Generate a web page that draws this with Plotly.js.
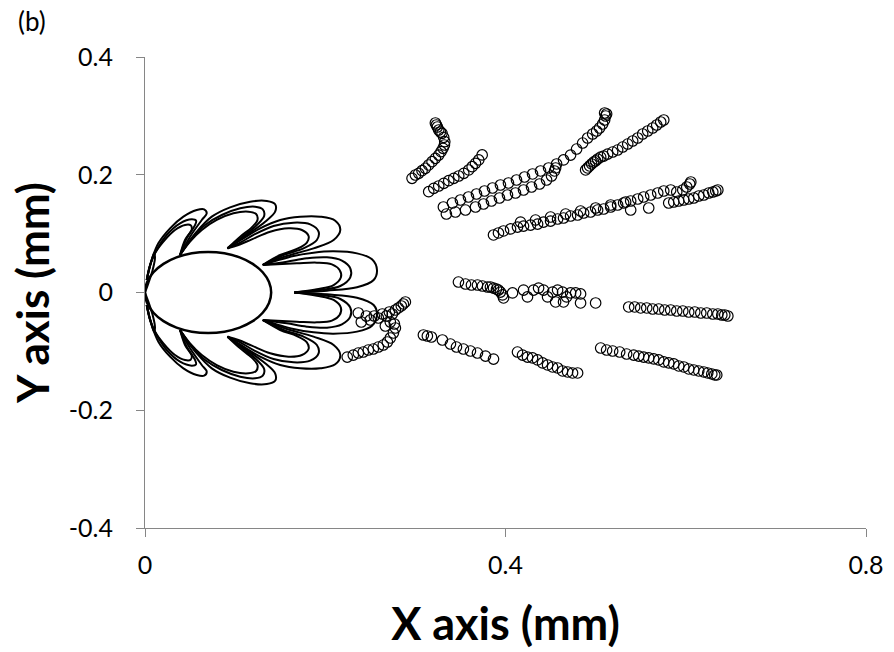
<!DOCTYPE html>
<html>
<head>
<meta charset="utf-8">
<script src="https://cdn.plot.ly/plotly-3.0.1.min.js"></script>
<style>html,body{margin:0;padding:0;background:#fff;}#chart{width:894px;height:652px;}</style>
</head>
<body>
<div id="chart"></div>
<script>
// ---------- central ellipse ----------
const ellX = [0.140,0.1376,0.1306,0.1195,0.105,0.0881,0.070,0.0519,0.035,0.0205,0.0094,0.0024,0.000,0.0024,0.0094,0.0205,0.035,0.0519,0.070,0.0881,0.105,0.1195,0.1306,0.1376,0.140];
const ellY = [0.000,0.0178,0.0344,0.0487,0.0596,0.0665,0.0688,0.0665,0.0596,0.0487,0.0344,0.0178,0.000,-0.0178,-0.0344,-0.0487,-0.0596,-0.0665,-0.0688,-0.0665,-0.0596,-0.0487,-0.0344,-0.0178,0.000];

// ---------- petal loops (upper half, lower half) ----------
const lobeA_out_x = [0.1656,0.2019,0.2352,0.2537,0.2574,0.2519,0.2352,0.2093,0.1870,0.1648,0.1463,0.1307];
const lobeA_out_y = [0.0,0.0031,0.0088,0.0212,0.0382,0.0563,0.0665,0.0699,0.0677,0.0620,0.0541,0.0467];
const lobeA_out_yl = [0.0,-0.0031,-0.0088,-0.0212,-0.0382,-0.0563,-0.0665,-0.0699,-0.0677,-0.0620,-0.0541,-0.0467];
const lobeA_mid_x = [0.1656,0.1944,0.2167,0.2278,0.2278,0.2185,0.2019,0.1796,0.1574,0.1307];
const lobeA_mid_y = [0.0,0.0042,0.0110,0.0258,0.0411,0.0541,0.0597,0.0580,0.0524,0.0467];
const lobeA_mid_yl = [0.0,-0.0042,-0.0110,-0.0258,-0.0411,-0.0541,-0.0597,-0.0580,-0.0524,-0.0467];
const lobeA_in_x = [0.1656,0.1907,0.2093,0.2174,0.2159,0.2074,0.1907,0.1685,0.1307];
const lobeA_in_y = [0.0,0.0054,0.0127,0.0258,0.0382,0.0478,0.0507,0.0495,0.0467];
const lobeA_in_yl = [0.0,-0.0054,-0.0127,-0.0258,-0.0382,-0.0478,-0.0507,-0.0495,-0.0467];

const lobeB_out_x = [0.1307,0.1574,0.1870,0.2093,0.2167,0.2111,0.1944,0.1722,0.1500,0.1278,0.1093,0.0915];
const lobeB_out_y = [0.0467,0.0620,0.0750,0.0892,0.1062,0.1220,0.1288,0.1288,0.1232,0.1090,0.0920,0.0750];
const lobeB_out_yl = [-0.0467,-0.0620,-0.0750,-0.0892,-0.1062,-0.1220,-0.1288,-0.1288,-0.1232,-0.1090,-0.0920,-0.0750];
const lobeB_mid_x = [0.1307,0.1537,0.1759,0.1907,0.1926,0.1833,0.1648,0.1426,0.1204,0.1056,0.0915];
const lobeB_mid_y = [0.0467,0.0637,0.0750,0.0892,0.1033,0.1158,0.1186,0.1130,0.0977,0.0847,0.0750];
const lobeB_mid_yl = [-0.0467,-0.0637,-0.0750,-0.0892,-0.1033,-0.1158,-0.1186,-0.1130,-0.0977,-0.0847,-0.0750];
const lobeB_in_x = [0.1307,0.1500,0.1685,0.1796,0.1815,0.1741,0.1593,0.1389,0.1185,0.1037,0.0915];
const lobeB_in_y = [0.0467,0.0637,0.0739,0.0847,0.0960,0.1062,0.1090,0.1033,0.0903,0.0807,0.0750];
const lobeB_in_yl = [-0.0467,-0.0637,-0.0739,-0.0847,-0.0960,-0.1062,-0.1090,-0.1033,-0.0903,-0.0807,-0.0750];

const lobeC_out_x = [0.0915,0.1130,0.1333,0.1444,0.1444,0.1352,0.1167,0.0944,0.0741,0.0574,0.0463,0.0389];
const lobeC_out_y = [0.0750,0.0977,0.1203,0.1373,0.1498,0.1554,0.1543,0.1447,0.1288,0.1033,0.0807,0.0637];
const lobeC_out_yl = [-0.0750,-0.0977,-0.1203,-0.1373,-0.1498,-0.1554,-0.1543,-0.1447,-0.1288,-0.1033,-0.0807,-0.0637];
const lobeC_mid_x = [0.0915,0.1093,0.1241,0.1322,0.1307,0.1222,0.1056,0.0852,0.0667,0.0519,0.0389];
const lobeC_mid_y = [0.0750,0.0960,0.1147,0.1300,0.1413,0.1458,0.1430,0.1316,0.1147,0.0920,0.0637];
const lobeC_mid_yl = [-0.0750,-0.0960,-0.1147,-0.1300,-0.1413,-0.1458,-0.1430,-0.1316,-0.1147,-0.0920,-0.0637];
const lobeC_in_x = [0.0915,0.1056,0.1185,0.1248,0.1233,0.1148,0.0981,0.0796,0.0630,0.0500,0.0389];
const lobeC_in_y = [0.0750,0.0948,0.1107,0.1232,0.1333,0.1373,0.1345,0.1232,0.1062,0.0863,0.0637];
const lobeC_in_yl = [-0.0750,-0.0948,-0.1107,-0.1232,-0.1333,-0.1373,-0.1345,-0.1232,-0.1062,-0.0863,-0.0637];

const lobeD_out_x = [0.0389,0.0500,0.0630,0.0685,0.0656,0.0574,0.0426,0.0278,0.0148,0.0074,0.0019];
const lobeD_out_y = [0.0637,0.0948,0.1232,0.1345,0.1413,0.1401,0.1288,0.1090,0.0835,0.0552,0.0212];
const lobeD_out_yl = [-0.0637,-0.0948,-0.1232,-0.1345,-0.1413,-0.1401,-0.1288,-0.1090,-0.0835,-0.0552,-0.0212];
const lobeD_mid_x = [0.0389,0.0463,0.0556,0.0567,0.0519,0.0389,0.0241,0.0130,0.0056,0.0019];
const lobeD_mid_y = [0.0637,0.0920,0.1147,0.1220,0.1243,0.1175,0.0977,0.0722,0.0467,0.0212];
const lobeD_mid_yl = [-0.0637,-0.0920,-0.1147,-0.1220,-0.1243,-0.1175,-0.0977,-0.0722,-0.0467,-0.0212];
const lobeD_in_x = [0.0389,0.0444,0.0519,0.0507,0.0444,0.0333,0.0204,0.0100,0.0048,0.0019];
const lobeD_in_y = [0.0637,0.0892,0.1073,0.1141,0.1147,0.1062,0.0863,0.0637,0.0411,0.0212];
const lobeD_in_yl = [-0.0637,-0.0892,-0.1073,-0.1141,-0.1147,-0.1062,-0.0863,-0.0637,-0.0411,-0.0212];

const lobeE_x = [0.0019,0.0063,0.0100,0.0111,0.0085,0.0037,0.0];
const lobeE_y = [0.0212,0.0495,0.0665,0.0597,0.0382,0.0156,0.0];
const lobeE_yl = [-0.0212,-0.0495,-0.0665,-0.0597,-0.0382,-0.0156,0.0];

// ---------- scattered particles (open circles) ----------
const s1x = [0.2367,0.2400,0.2456,0.2500,0.2544,0.2589,0.2633,0.2678,0.2711,0.2744,0.2778,0.2811,0.2844,0.2867,0.2889];
const s1y = [-0.0348,-0.0501,-0.0399,-0.0467,-0.0399,-0.0433,-0.0365,-0.0399,-0.0331,-0.0365,-0.0297,-0.0263,-0.0229,-0.0195,-0.0161];
const s2x = [0.2244,0.2311,0.2367,0.2422,0.2478,0.2533,0.2589,0.2644,0.2689,0.2722,0.2756,0.2778,0.2767,0.2722,0.2667];
const s2y = [-0.1096,-0.1062,-0.1028,-0.1011,-0.0977,-0.0960,-0.0926,-0.0892,-0.0841,-0.0773,-0.0688,-0.0603,-0.0535,-0.0501,-0.0569];
const s3x = [0.2963,0.3000,0.3037,0.3074,0.3111,0.3148,0.3185,0.3222,0.3259,0.3285,0.3307,0.3322,0.3326,0.3314,0.3296,0.3278,0.3259,0.3244,0.3233,0.3222];
const s3y = [0.1940,0.1996,0.2025,0.2069,0.2110,0.2166,0.2222,0.2279,0.2335,0.2392,0.2449,0.2505,0.2561,0.2636,0.2704,0.2726,0.2760,0.2811,0.2845,0.2879];
const s4x = [0.3148,0.3204,0.3259,0.3315,0.3370,0.3426,0.3481,0.3537,0.3592,0.3630,0.3667,0.3703,0.3741];
const s4y = [0.1712,0.1770,0.1809,0.1855,0.1899,0.1940,0.1979,0.2025,0.2081,0.2137,0.2194,0.2251,0.2336];
const s5x = [0.3311,0.3411,0.3500,0.3589,0.3678,0.3767,0.3856,0.3944,0.4033,0.4122,0.4211,0.4300,0.4389,0.4478,0.4567,0.4644,0.4722,0.4789,0.4856,0.4911,0.4967,0.5011,0.5044,0.5078,0.5100,0.5111,0.5122,0.5100];
const s5y = [0.1452,0.1520,0.1571,0.1622,0.1673,0.1724,0.1775,0.1826,0.1860,0.1911,0.1962,0.2013,0.2064,0.2115,0.2183,0.2251,0.2335,0.2437,0.2539,0.2624,0.2692,0.2743,0.2794,0.2862,0.2930,0.2998,0.3032,0.3049];
const s6x = [0.3344,0.3444,0.3556,0.3667,0.3756,0.3844,0.3933,0.4022,0.4111,0.4200,0.4289,0.4378,0.4456,0.4511,0.4544,0.4556];
const s6y = [0.1333,0.1367,0.1401,0.1452,0.1503,0.1554,0.1605,0.1656,0.1690,0.1741,0.1792,0.1843,0.1911,0.1979,0.2064,0.2115];
const s7x = [0.4889,0.4911,0.4933,0.4956,0.4978,0.5000,0.5022,0.5056,0.5089,0.5133,0.5189,0.5244,0.5300,0.5356,0.5411,0.5467,0.5522,0.5578,0.5633,0.5678,0.5722,0.5756];
const s7y = [0.2081,0.2115,0.2149,0.2183,0.2216,0.2234,0.2267,0.2301,0.2318,0.2352,0.2386,0.2420,0.2471,0.2522,0.2573,0.2624,0.2692,0.2743,0.2794,0.2845,0.2896,0.2930];
const s8x = [0.3867,0.3922,0.3978,0.4056,0.4133,0.4200,0.4278,0.4356,0.4422,0.4500,0.4578,0.4644,0.4722,0.4800,0.4867,0.4944,0.5022,0.5089,0.5167,0.5244,0.5311,0.5389,0.5467,0.5533,0.5611,0.5689,0.5756,0.5833,0.5900,0.5967,0.6011,0.6044,0.6056];
const s8y = [0.0977,0.1011,0.1045,0.1079,0.1112,0.1129,0.1146,0.1163,0.1197,0.1214,0.1248,0.1265,0.1299,0.1316,0.1350,0.1367,0.1401,0.1418,0.1452,0.1486,0.1520,0.1554,0.1588,0.1622,0.1656,0.1690,0.1724,0.1741,0.1707,0.1741,0.1792,0.1843,0.1877];
const s8bx = [0.4167,0.4333,0.4500,0.4667,0.4833,0.5000,0.5167,0.5333,0.5389,0.5589];
const s8by = [0.1197,0.1231,0.1282,0.1333,0.1384,0.1435,0.1486,0.1537,0.1401,0.1435];
const s9x = [0.5811,0.5867,0.5922,0.5978,0.6033,0.6089,0.6144,0.6200,0.6256,0.6300,0.6333,0.6356];
const s9y = [0.1520,0.1537,0.1554,0.1571,0.1588,0.1605,0.1639,0.1656,0.1690,0.1707,0.1724,0.1741];
const s10x = [0.3478,0.3556,0.3622,0.3689,0.3744,0.3800,0.3833,0.3867,0.3900,0.3922,0.3944,0.3967,0.3978,0.4078];
const s10y = [0.0178,0.0144,0.0127,0.0127,0.0110,0.0093,0.0093,0.0076,0.0059,0.0042,0.0008,-0.0042,-0.0093,-0.0008];
const s11x = [0.4200,0.4244,0.4311,0.4367,0.4422,0.4467,0.4522,0.4578,0.4633,0.4678,0.4722,0.4778,0.4833,0.4556,0.4644,0.4833,0.5000];
const s11y = [0.0042,-0.0076,0.0042,0.0076,0.0042,-0.0076,0.0008,0.0042,0.0008,-0.0076,-0.0008,-0.0008,-0.0025,-0.0161,-0.0161,-0.0178,-0.0178];
const s12x = [0.5367,0.5433,0.5500,0.5567,0.5633,0.5700,0.5767,0.5833,0.5900,0.5967,0.6033,0.6100,0.6167,0.6233,0.6300,0.6356,0.6400,0.6433,0.6467];
const s12y = [-0.0246,-0.0246,-0.0263,-0.0263,-0.0280,-0.0280,-0.0297,-0.0297,-0.0314,-0.0314,-0.0331,-0.0331,-0.0348,-0.0348,-0.0365,-0.0365,-0.0382,-0.0382,-0.0399];
const s13x = [0.3089,0.3133,0.3178,0.3300,0.3389,0.3456,0.3533,0.3611,0.3689,0.3778,0.3867];
const s13y = [-0.0722,-0.0739,-0.0756,-0.0807,-0.0875,-0.0926,-0.0960,-0.0994,-0.1028,-0.1079,-0.1130];
const s14x = [0.4133,0.4189,0.4244,0.4300,0.4356,0.4411,0.4467,0.4522,0.4578,0.4633,0.4689,0.4744,0.4800];
const s14y = [-0.1011,-0.1062,-0.1096,-0.1112,-0.1146,-0.1197,-0.1231,-0.1265,-0.1282,-0.1333,-0.1350,-0.1367,-0.1367];
const s15x = [0.5056,0.5122,0.5189,0.5267,0.5344,0.5422,0.5478,0.5533,0.5589,0.5644,0.5700,0.5756,0.5811,0.5867,0.5922,0.5978,0.6033,0.6089,0.6144,0.6200,0.6244,0.6289,0.6322,0.6344];
const s15y = [-0.0943,-0.0977,-0.0994,-0.1011,-0.1045,-0.1062,-0.1079,-0.1096,-0.1112,-0.1129,-0.1146,-0.1180,-0.1197,-0.1214,-0.1248,-0.1265,-0.1299,-0.1316,-0.1333,-0.1350,-0.1367,-0.1384,-0.1401,-0.1401];

// ---------- axes ----------
const xTicks = [0, 0.4, 0.8];
const xTickText = ['0', '0.4', '0.8'];
const yTicks = [-0.4, -0.2, 0, 0.2, 0.4];
const yTickText = ['-0.4', '-0.2', '0', '0.2', '0.4'];

const loops = [
  [ellX, ellY],
  [lobeA_out_x, lobeA_out_y], [lobeA_mid_x, lobeA_mid_y], [lobeA_in_x, lobeA_in_y],
  [lobeA_out_x, lobeA_out_yl], [lobeA_mid_x, lobeA_mid_yl], [lobeA_in_x, lobeA_in_yl],
  [lobeB_out_x, lobeB_out_y], [lobeB_mid_x, lobeB_mid_y], [lobeB_in_x, lobeB_in_y],
  [lobeB_out_x, lobeB_out_yl], [lobeB_mid_x, lobeB_mid_yl], [lobeB_in_x, lobeB_in_yl],
  [lobeC_out_x, lobeC_out_y], [lobeC_mid_x, lobeC_mid_y], [lobeC_in_x, lobeC_in_y],
  [lobeC_out_x, lobeC_out_yl], [lobeC_mid_x, lobeC_mid_yl], [lobeC_in_x, lobeC_in_yl],
  [lobeD_out_x, lobeD_out_y], [lobeD_mid_x, lobeD_mid_y], [lobeD_in_x, lobeD_in_y],
  [lobeD_out_x, lobeD_out_yl], [lobeD_mid_x, lobeD_mid_yl], [lobeD_in_x, lobeD_in_yl],
  [lobeE_x, lobeE_y], [lobeE_x, lobeE_yl]
];
const streaks = [[s1x,s1y],[s2x,s2y],[s3x,s3y],[s4x,s4y],[s5x,s5y],[s6x,s6y],[s7x,s7y],[s8x,s8y],[s8bx,s8by],[s9x,s9y],[s10x,s10y],[s11x,s11y],[s12x,s12y],[s13x,s13y],[s14x,s14y],[s15x,s15y]];

const traces = [];
loops.forEach(function(p, i){
  traces.push({type:'scatter', mode:'lines', x:p[0], y:p[1], hoverinfo:'skip',
    line:{color:'#000', width: i === 0 ? 2.5 : 2, shape:'spline', smoothing:1}});
});
streaks.forEach(function(p){
  traces.push({type:'scatter', mode:'markers', x:p[0], y:p[1], hoverinfo:'skip',
    marker:{symbol:'circle-open', size:10.5, color:'#000', line:{width:1.2, color:'#000'}}});
});

const FONT = 'Lato, "Open Sans", "DejaVu Sans", sans-serif';
const layout = {
  width: 894, height: 652,
  margin: {l:145, r:28, t:57, b:124},
  paper_bgcolor:'#fff', plot_bgcolor:'#fff',
  showlegend:false,
  font:{family:FONT, color:'#000'},
  xaxis:{range:[0,0.8], tickvals:xTicks, ticktext:xTickText, showgrid:false, zeroline:false,
    showline:true, linecolor:'#868686', linewidth:1, ticks:'outside', ticklen:8, tickcolor:'#868686',
    tickfont:{family:FONT, size:25, color:'#000'}, ticklabelstandoff:7,
    title:{text:'<b>X axis (mm)</b>', font:{family:FONT, size:45, color:'#000'}, standoff:30}},
  yaxis:{range:[-0.4,0.4], tickvals:yTicks, ticktext:yTickText, showgrid:false, zeroline:false,
    showline:true, linecolor:'#868686', linewidth:1, ticks:'outside', ticklen:8, tickcolor:'#868686',
    tickfont:{family:FONT, size:25, color:'#000'}, ticklabelstandoff:18,
    title:{text:'<b>Y axis (mm)</b>', font:{family:FONT, size:44, color:'#000'}, standoff:5}},
  annotations:[{text:'(b)', xref:'paper', yref:'paper', x:-0.179, y:1.114, xanchor:'left', yanchor:'top',
    showarrow:false, font:{family:FONT, size:26, color:'#000'}}]
};
Plotly.newPlot('chart', traces, layout, {displayModeBar:false, staticPlot:true});
</script>
</body>
</html>
